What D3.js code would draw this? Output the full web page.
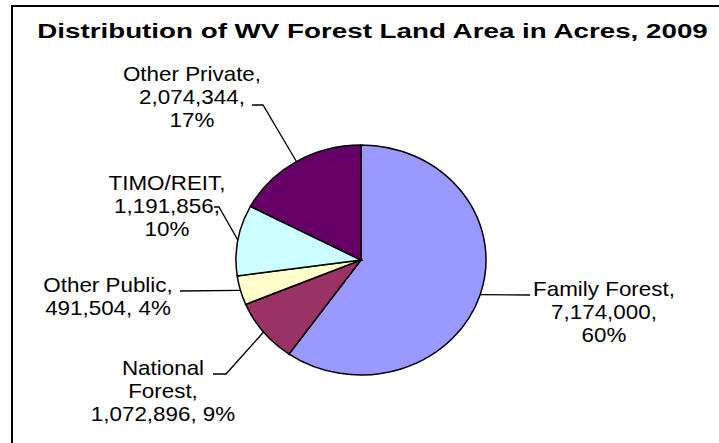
<!DOCTYPE html>
<html>
<head>
<meta charset="utf-8">
<script src="https://cdn.jsdelivr.net/npm/d3@7"></script>
<style>
  html, body { margin: 0; padding: 0; background: #fff; }
  svg { display: block; }
  text { font-family: "Liberation Sans", Arial, sans-serif; fill: #000; }
</style>
</head>
<body>
<svg id="chart" width="719" height="443"></svg>
<script>
// WV forest land ownership, 2009 (acres)
const categories = ["Family Forest", "National Forest", "Other Public", "TIMO/REIT", "Other Private"];
const acres      = [7174000, 1072896, 491504, 1191856, 2074344];
const colors     = ["#9999FF", "#993366", "#FFFFCC", "#CCFFFF", "#660066"];
const title = "Distribution of WV Forest Land Area in Acres, 2009";

// how each label's text is broken into lines: "name" / "value" / "pct" pieces
const lineBreaks = [
  [["Family Forest,"], ["value"], ["pct"]],
  [["National"], ["Forest,"], ["value", "pct"]],
  [["Other Public,"], ["value", "pct"]],
  [["TIMO/REIT,"], ["value"], ["pct"]],
  [["Other Private,"], ["value"], ["pct"]]
];

// label placement: text centre x, first baseline, and the elbow of the leader line
const labelLayout = [
  { x: 604, y: 296, start: [530, 295], elbow: null },
  { x: 163, y: 375, start: [213, 374], elbow: [226, 374] },
  { x: 108, y: 292, start: [180, 291], elbow: null },
  { x: 167, y: 190, start: [214, 207], elbow: [219, 207] },
  { x: 192, y: 81,  start: [252, 105], elbow: [263, 105] }
];

const W = 719, H = 443;
const cx = 361, cy = 260, rx = 125, ry = 115;
const lineH = 23, stretch = 1.12;

const svg = d3.select("#chart");

// frame
svg.append("rect")
  .attr("x", 12).attr("y", 6)
  .attr("width", W + 10).attr("height", H + 10)
  .attr("fill", "#fff").attr("stroke", "#000").attr("stroke-width", 2);

// title, stretched to its full width
const t = svg.append("text")
  .attr("font-size", 21).attr("font-weight", "bold")
  .attr("text-anchor", "middle")
  .text(title);
const tLen = t.node().getComputedTextLength();
const tScale = 671 / tLen;
t.attr("transform", `translate(372.5,38) scale(${tScale},1)`);

// pie
const total = d3.sum(acres);
const pie = d3.pie().sort(null).value(d => d);
const arcs = pie(acres);
const arc = d3.arc().innerRadius(0).outerRadius(rx);

const g = svg.append("g")
  .attr("transform", `translate(${cx},${cy}) scale(1,${ry / rx})`);

g.selectAll("path")
  .data(arcs)
  .join("path")
  .attr("d", arc)
  .attr("fill", (d, i) => colors[i])
  .attr("stroke", "#000")
  .attr("stroke-width", 1.5)
  .attr("vector-effect", "non-scaling-stroke");

// labels and leader lines
const fmt = d3.format(",");
const pct = v => Math.round(v / total * 100) + "%";

arcs.forEach((a, i) => {
  const mid = (a.startAngle + a.endAngle) / 2;
  const edge = [cx + rx * Math.sin(mid), cy - ry * Math.cos(mid)];
  const L = labelLayout[i];
  const pts = [L.start];
  if (L.elbow) pts.push(L.elbow);
  pts.push(edge);
  svg.append("path")
    .attr("d", d3.line()(pts))
    .attr("fill", "none")
    .attr("stroke", "#000")
    .attr("stroke-width", 1.3);

  const lines = lineBreaks[i].map(parts => parts.map(p =>
    p === "value" ? fmt(acres[i]) + "," :
    p === "pct" ? pct(acres[i]) : p).join(" "));

  const txt = svg.append("text")
    .attr("font-size", 20)
    .attr("text-anchor", "middle")
    .attr("transform", `translate(${L.x},${L.y}) scale(${stretch},1)`);
  lines.forEach((s, k) => {
    txt.append("tspan").attr("x", 0).attr("y", k * lineH).text(s);
  });
});
</script>
</body>
</html>
